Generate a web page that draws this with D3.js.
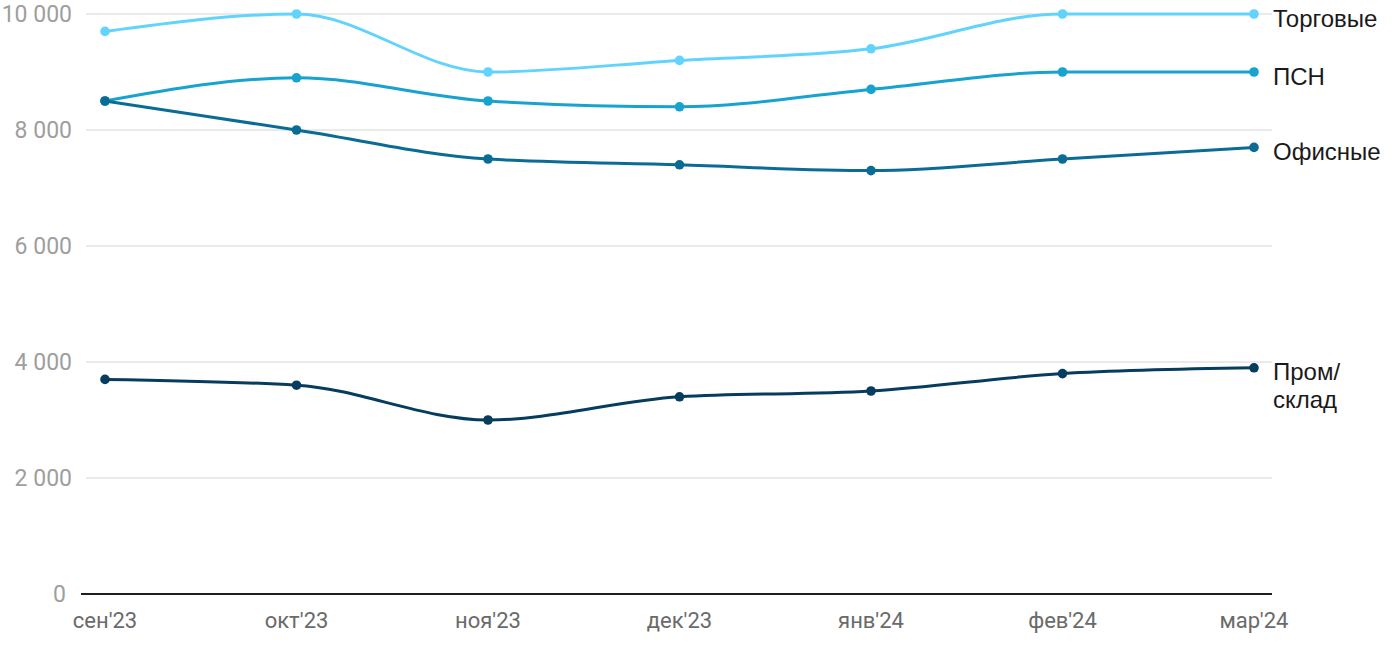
<!DOCTYPE html>
<html><head><meta charset="utf-8">
<script src="https://cdn.jsdelivr.net/npm/d3@7"></script>
<style>body{margin:0;background:#fff}svg{display:block}</style>
</head><body>
<svg id="c" width="1400" height="650"></svg>
<script>
const categories = ["сен'23","окт'23","ноя'23","дек'23","янв'24","фев'24","мар'24"];
const seriesNames = ["Торговые","ПСН","Офисные","Пром/\nсклад"];
const seriesColors = ["#62d3fd","#17a2d0","#0a6c95","#063c5e"];
const torgovye = [9700,10000,9000,9200,9400,10000,10000];
const psn = [8500,8900,8500,8400,8700,9000,9000];
const ofisnye = [8500,8000,7500,7400,7300,7500,7700];
const promsklad = [3700,3600,3000,3400,3500,3800,3900];
const yTicks = [0,2000,4000,6000,8000,10000];

(function(){
const seriesValues = [torgovye, psn, ofisnye, promsklad];
const svg = d3.select("#c");
const gLeft = 86, axLeft = 81, mRight = 1272, mTop = 14, mBottom = 594;
const x = d3.scalePoint().domain(categories).range([105,1254]);
const y = d3.scaleLinear().domain([0,10000]).range([mBottom,mTop]);
const fmt = v => d3.format(",")(v).replace(/,/g," ");

svg.append("g").selectAll("line").data(yTicks.filter(d=>d>0)).join("line")
  .attr("x1",gLeft).attr("x2",mRight).attr("y1",d=>y(d)).attr("y2",d=>y(d))
  .attr("stroke","#e3e3e3").attr("stroke-width",1.5);
svg.append("g").selectAll("text").data(yTicks).join("text")
  .attr("x",d=>d===0?(axLeft-15):(gLeft-14)).attr("y",d=>y(d)).attr("dy","0.36em").attr("text-anchor","end")
  .attr("font-family","Roboto").attr("font-size",23).attr("fill","#9e9e9e").text(fmt);
svg.append("line").attr("x1",axLeft).attr("x2",mRight).attr("y1",mBottom).attr("y2",mBottom)
  .attr("stroke","#1e1e1e").attr("stroke-width",2);
svg.append("g").selectAll("text").data(categories).join("text")
  .attr("x",d=>x(d)).attr("y",628).attr("text-anchor","middle")
  .attr("font-family","Roboto").attr("font-size",22).attr("fill","#6a6a6a").text(d=>d);

const line = d3.line().x((d,i)=>x(categories[i])).y(d=>y(d)).curve(d3.curveMonotoneX);
seriesValues.forEach((vals,si)=>{
  const g = svg.append("g");
  g.append("path").attr("d",line(vals)).attr("fill","none")
    .attr("stroke",seriesColors[si]).attr("stroke-width",3);
  g.selectAll("circle").data(vals).join("circle")
    .attr("cx",(d,i)=>x(categories[i])).attr("cy",d=>y(d)).attr("r",4.8)
    .attr("fill",seriesColors[si]);
  const lines = seriesNames[si].split("\n");
  const t = g.append("text").attr("x",1273).attr("y",y(vals[vals.length-1])+12.5)
    .attr("font-family","Liberation Sans, Arial").attr("font-size",24).attr("fill","#1a1a1a");
  lines.forEach((l,li)=>t.append("tspan").attr("x",1273).attr("dy",li===0?0:28).text(l));
});
})();
</script>
</body></html>
